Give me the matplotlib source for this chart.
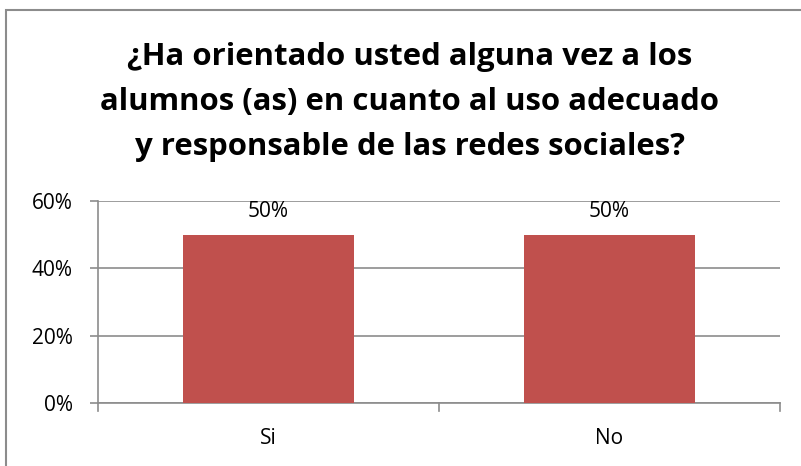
import matplotlib.pyplot as plt
from matplotlib.patches import Rectangle

categories = ["Si", "No"]
values = [50, 50]
yticks = [0, 20, 40, 60]
title_lines = ["¿Ha orientado usted alguna vez a los",
               "alumnos (as) en cuanto al uso adecuado",
               "y responsable de las redes sociales?"]

plt.rcParams['font.family'] = ['Open Sans', 'DejaVu Sans']

fig = plt.figure(figsize=(8.01, 4.66), dpi=100)
W, H = 801, 466
# plot area in pixels: left 98, right 780, top 201, bottom 403
ax = fig.add_axes([98 / W, 1 - 403 / H, (780 - 98) / W, (403 - 201) / H])

# outer chart border (right and bottom fall outside the picture)
fig.patches.append(Rectangle((6 / W, -0.1), 1.2, 1 - 10 / H + 0.1,
                             transform=fig.transFigure, fill=False,
                             edgecolor='#8c8c8c', linewidth=1.5))

x = range(len(categories))
bars = ax.bar(x, values, width=0.5, color='#c0504d', zorder=3)
for b, v in zip(bars, values):
    ax.text(b.get_x() + b.get_width() / 2, v + 5.3, f"{v}%", ha='center',
            va='baseline', fontsize=15, color='black')

ax.set_xlim(-0.5, len(categories) - 0.5)
ax.set_ylim(0, 60)
ax.set_yticks(yticks)
ax.set_yticklabels([f"{t}%" for t in yticks], fontsize=15)
ax.set_xticks(list(x))
ax.set_xticklabels(categories, fontsize=15)
ax.tick_params(axis='x', length=0, pad=18)
ax.tick_params(axis='y', length=6, width=1.2, color='#8c8c8c', pad=12)
ax.grid(axis='y', color='#8c8c8c', linewidth=1.2, zorder=0)
for s in ['top', 'right']:
    ax.spines[s].set_visible(False)
for s in ['left', 'bottom']:
    ax.spines[s].set_color('#8c8c8c')
    ax.spines[s].set_linewidth(1.2)
# small boundary ticks at category edges
for xe in [-0.5, 0.5, 1.5]:
    ax.plot([xe, xe], [0, -2.4], color='#8c8c8c', lw=1.2, clip_on=False)

for i, line in enumerate(title_lines):
    fig.text(410 / W, 1 - (65 + 45 * i) / H, line, ha='center', va='baseline',
             fontsize=22.4, fontweight='bold', color='black')

fig.savefig("out.png", dpi=100)
